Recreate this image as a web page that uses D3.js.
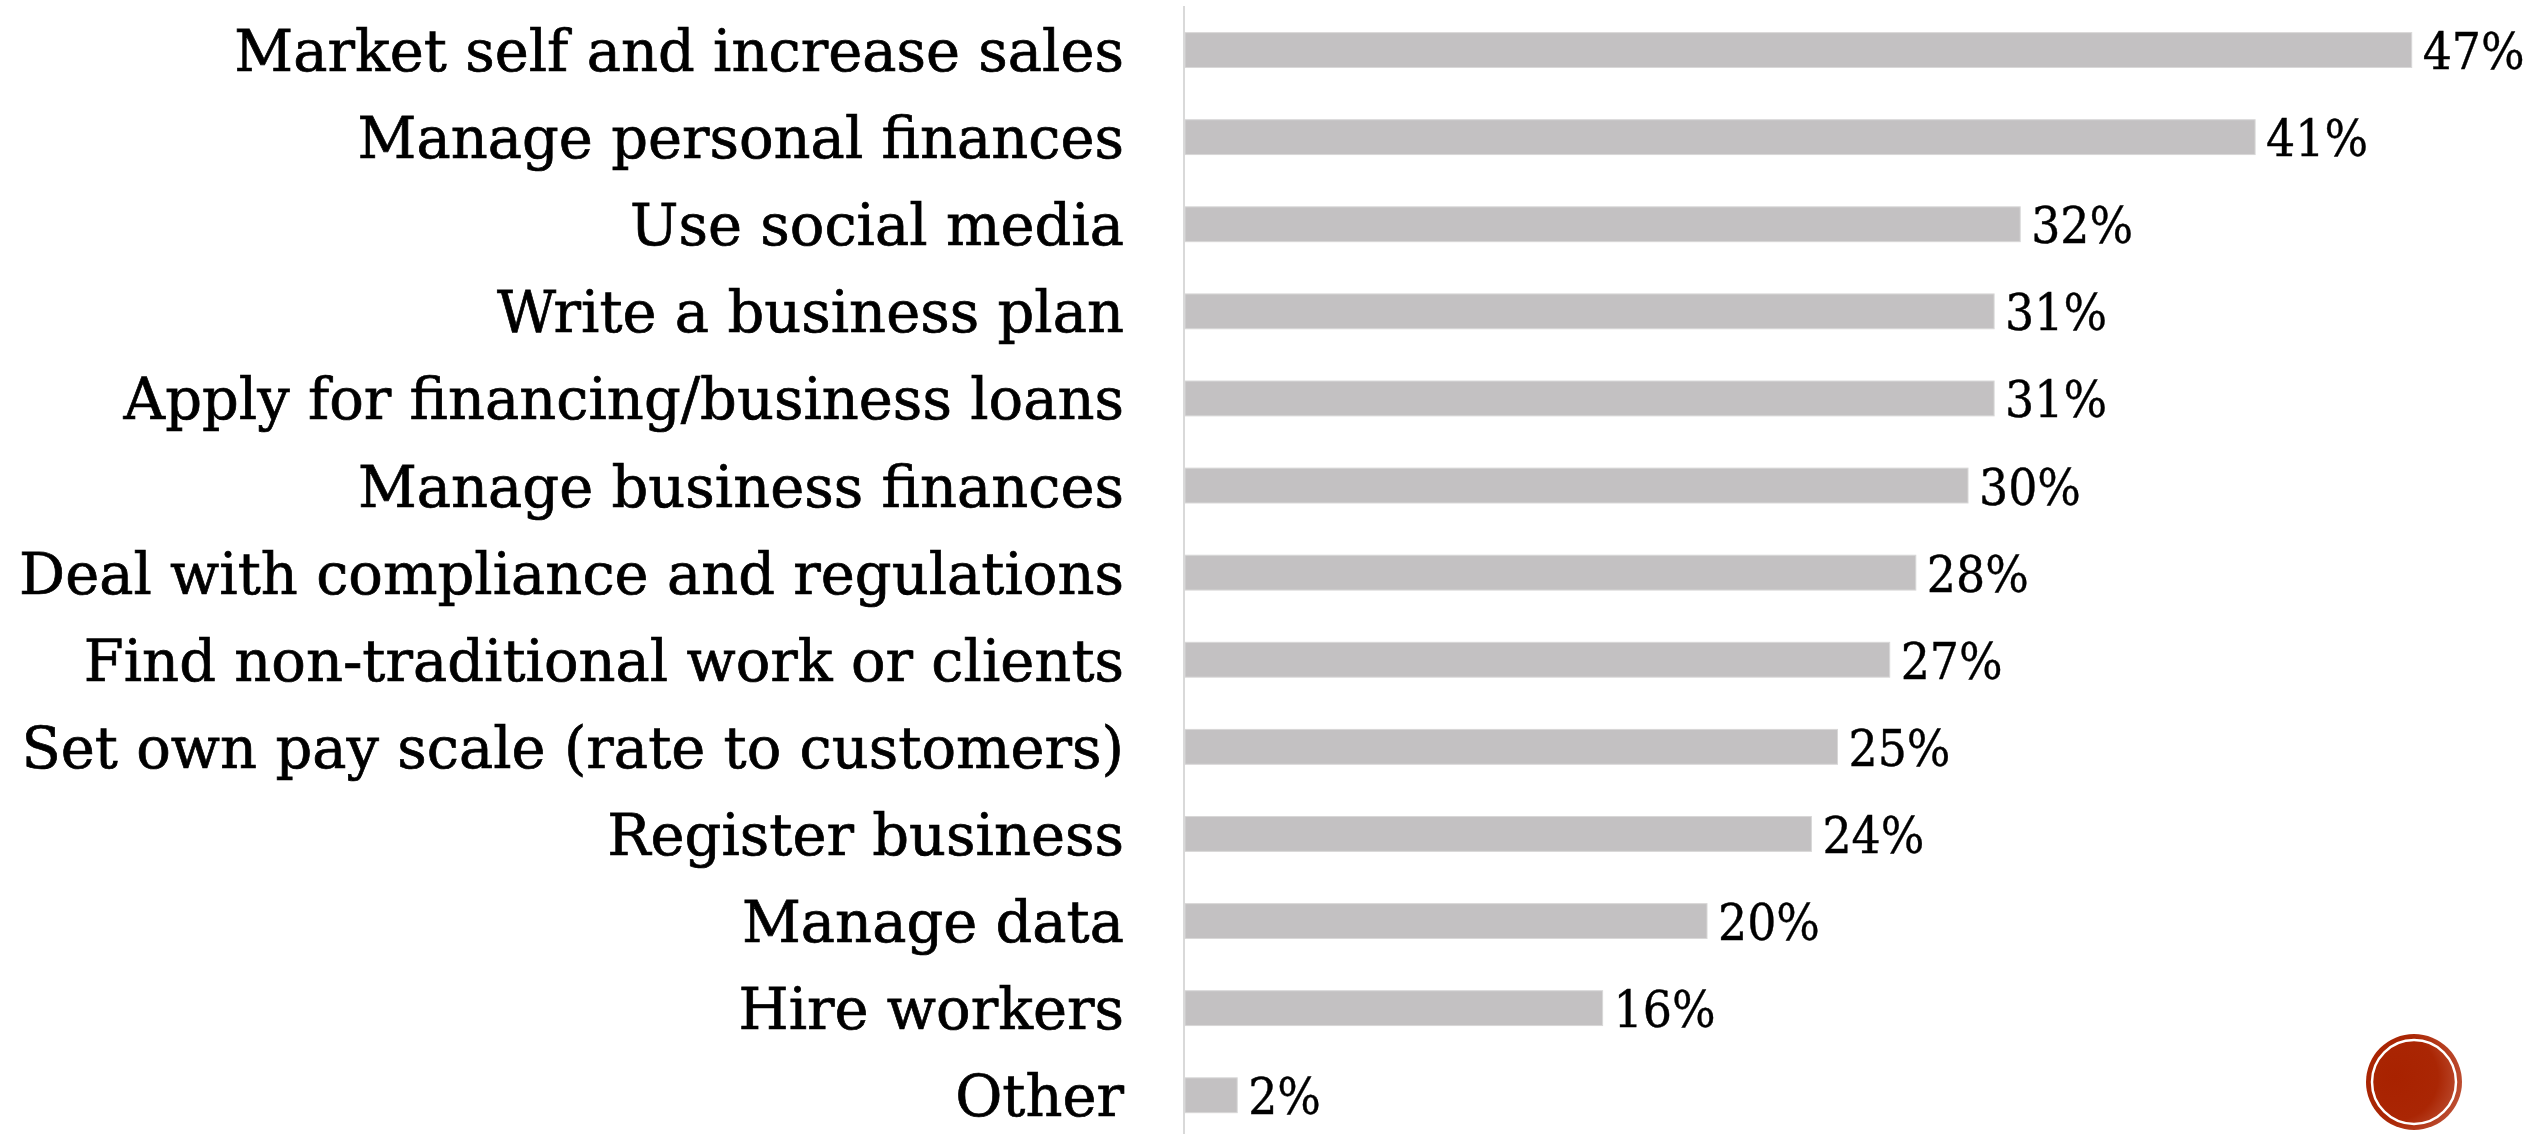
<!DOCTYPE html>
<html>
<head>
<meta charset="utf-8">
<script src="https://cdn.jsdelivr.net/npm/d3@7"></script>
<style>
  html, body { margin: 0; padding: 0; background: #fff; }
  svg { display: block; }
  .cat { font-family: "DejaVu Serif", serif; fill: #000; stroke: #000; stroke-width: 0.7px; }
  .val { font-family: "DejaVu Serif", serif; font-stretch: condensed; fill: #000; stroke: #000; stroke-width: 0.4px; }
</style>
</head>
<body>
<svg id="chart" width="2532" height="1134"></svg>
<script>
// Skills respondents want help with
const categories = [
  "Market self and increase sales",
  "Manage personal finances",
  "Use social media",
  "Write a business plan",
  "Apply for financing/business loans",
  "Manage business finances",
  "Deal with compliance and regulations",
  "Find non-traditional work or clients",
  "Set own pay scale (rate to customers)",
  "Register business",
  "Manage data",
  "Hire workers",
  "Other"
];
const values = [47, 41, 32, 31, 31, 30, 28, 27, 25, 24, 20, 16, 2];

const W = 2532, H = 1134;
const svg = d3.select("#chart");

const x = d3.scaleLinear().domain([0, 50]).range([1185, 2490]);
const y = d3.scaleBand()
  .domain(categories)
  .range([6.5, 1138.8])
  .paddingInner(0.6)
  .paddingOuter(0.3);

// vertical baseline
svg.append("line")
  .attr("x1", 1184).attr("x2", 1184)
  .attr("y1", 6).attr("y2", H)
  .attr("stroke", "#d9d9d9").attr("stroke-width", 2);

// bars
svg.append("g").selectAll("rect")
  .data(values)
  .join("rect")
  .attr("x", x(0))
  .attr("y", (d, i) => y(categories[i]))
  .attr("width", d => x(d) - x(0))
  .attr("height", y.bandwidth())
  .attr("fill", "#c3c1c2")
  .attr("stroke", "#d8d7d7")
  .attr("stroke-width", 1);

// category labels
svg.append("g").selectAll("text")
  .data(categories)
  .join("text")
  .attr("class", "cat")
  .attr("x", 1124)
  .attr("y", d => y(d) + y.bandwidth() / 2 + 21)
  .attr("text-anchor", "end")
  .attr("font-size", 57.5)
  .text(d => d);

// value labels
svg.append("g").selectAll("text")
  .data(values)
  .join("text")
  .attr("class", "val")
  .attr("x", d => x(d) + 11)
  .attr("y", (d, i) => y(categories[i]) + y.bandwidth() / 2 + 19)
  .attr("font-size", 51)
  .text(d => d + "%");

// corner badge
const defs = svg.append("defs");
const grad = defs.append("radialGradient").attr("id", "badgeGrad")
  .attr("cx", "30%").attr("cy", "45%").attr("r", "75%");
grad.append("stop").attr("offset", "0%").attr("stop-color", "#a82200");
grad.append("stop").attr("offset", "60%").attr("stop-color", "#aa2604");
grad.append("stop").attr("offset", "100%").attr("stop-color", "#c0553a");

const badge = svg.append("g").attr("transform", "translate(2414,1082)");
badge.append("circle").attr("r", 48).attr("fill", "url(#badgeGrad)");
badge.append("circle").attr("r", 42).attr("fill", "none")
  .attr("stroke", "#fff").attr("stroke-width", 2.5);
</script>
</body>
</html>
